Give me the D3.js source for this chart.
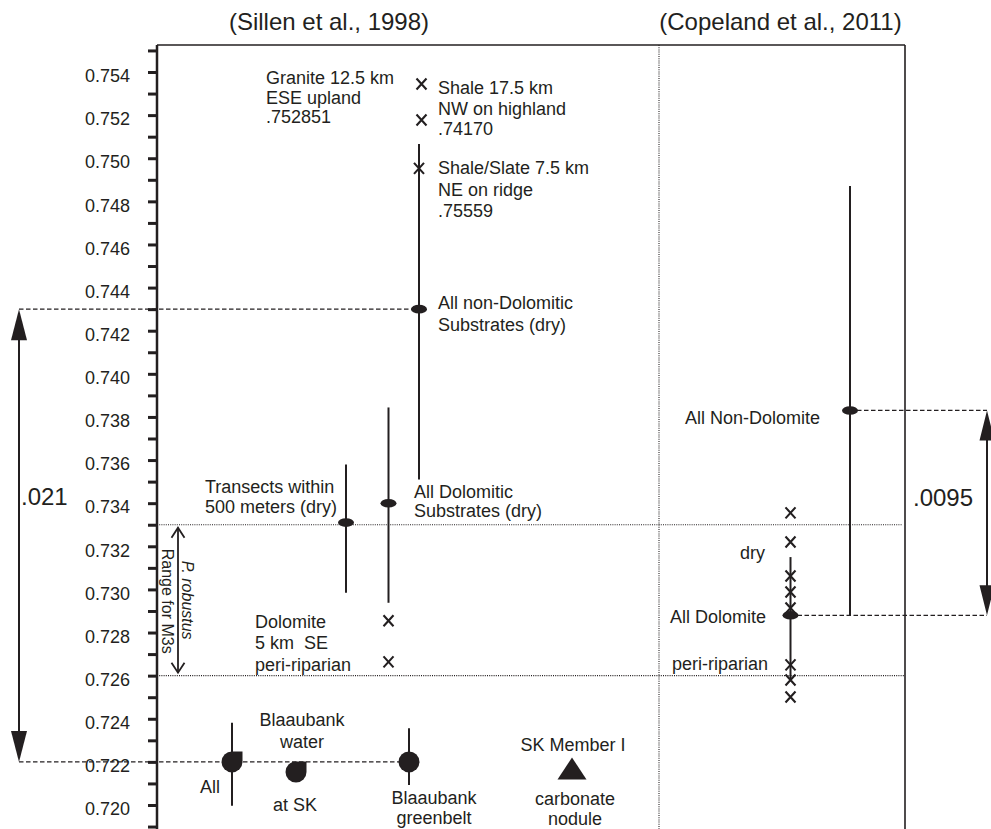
<!DOCTYPE html>
<html>
<head>
<meta charset="utf-8">
<script src="https://cdn.jsdelivr.net/npm/d3@7"></script>
<style>
  html, body { margin: 0; padding: 0; background: #fff; }
  svg { display: block; }
</style>
</head>
<body>
<svg id="chart" width="991" height="829"></svg>
<script>
// ---- 87Sr/86Sr axis ----
const majorTickLabels = ["0.720", "0.722", "0.724", "0.726", "0.728", "0.730", "0.732", "0.734",
  "0.736", "0.738", "0.740", "0.742", "0.744", "0.746", "0.748", "0.750", "0.752", "0.754"];
const minorTickValues = d3.range(719, 756).map(d => d / 1000);

// ---- Sillen et al., 1998: sample groups shown as range bars with a mean marker ----
const sillenGroups = ["Transects", "AllDolomitic", "AllNonDolomitic", "WaterAll", "Greenbelt"];
const sillenLow    = [0.72985, 0.72938, 0.73510, 0.71996, 0.72093];
const sillenHigh   = [0.73579, 0.73844, 0.75066, 0.72381, 0.72356];
const sillenMean   = [0.7331, 0.7340, 0.7430, 0.7220, 0.7220];
const sillenMarker = ["ellipse", "ellipse", "ellipse", "drop", "circle"];

// single values without a range
const singleGroups  = ["WaterSK", "SKMemberI"];
const singleValues  = [0.72153, 0.72160];
const singleMarkers = ["drop", "triangle"];

// ---- Copeland et al., 2011 ----
const copelandGroups = ["CopelandDolomite", "CopelandNonDolomite"];
const copelandLow    = [0.7258, 0.7288];
const copelandHigh   = [0.7315, 0.74871];
const copelandMean   = [0.7288, 0.7383];

// ---- individual samples (x) ----
const sampleGroups = ["ShaleTop", "ShaleTop", "AllNonDolomitic", "AllDolomitic", "AllDolomitic",
  "CopelandDolomite", "CopelandDolomite", "CopelandDolomite", "CopelandDolomite",
  "CopelandDolomite", "CopelandDolomite", "CopelandDolomite", "CopelandDolomite"];
const sampleValues = [0.75344, 0.75177, 0.74953, 0.72855, 0.72664,
  0.73355, 0.73220, 0.73062, 0.72988, 0.72914, 0.72650, 0.72580, 0.72501];

// ---- mean differences ----
const differenceLabels = [".021", ".0095"];
const differenceFrom   = [0.7430, 0.7383];
const differenceTo     = [0.7220, 0.7288];

// P. robustus M3 range
const m3Range = [0.726, 0.733];

// ================= drawing =================
const ink = "#231f20";
const font = "'Liberation Sans', Arial, Helvetica, sans-serif";
const svg = d3.select("#chart").attr("font-family", font);

const frame = { left: 157, right: 905, top: 45, bottom: 829, split: 659 };
const y = d3.scaleLinear().domain([0.720, 0.754]).range([805, 72]);

// horizontal placement of each group
const columnKeys = ["WaterAll", "WaterSK", "Transects", "AllDolomitic", "Greenbelt",
  "AllNonDolomitic", "ShaleTop", "SKMemberI", "CopelandDolomite", "CopelandNonDolomite",
  "LeftDiff", "RightDiff", "M3"];
const x = d3.scaleOrdinal().domain(columnKeys)
  .range([232, 296, 346, 388.5, 409, 419, 421.5, 572, 790.5, 850, 19, 987, 178]);

// frame
svg.append("line").attr("x1", frame.left).attr("x2", frame.right)
  .attr("y1", frame.top).attr("y2", frame.top)
  .attr("stroke", ink).attr("stroke-width", 1.6);
svg.append("line").attr("x1", frame.right).attr("x2", frame.right)
  .attr("y1", frame.top).attr("y2", frame.bottom)
  .attr("stroke", ink).attr("stroke-width", 1.6);
svg.append("line").attr("x1", frame.split).attr("x2", frame.split)
  .attr("y1", frame.top).attr("y2", frame.bottom)
  .attr("stroke", ink).attr("stroke-width", 1.1).attr("stroke-dasharray", "1,1.2");

// axis
const axis = d3.axisLeft(y)
  .tickValues(minorTickValues)
  .tickSize(9)
  .tickPadding(18)
  .tickFormat(d => {
    const s = d3.format(".3f")(d);
    return majorTickLabels.includes(s) ? s : "";
  });
const gAxis = svg.append("g")
  .attr("transform", `translate(${frame.left},0)`)
  .call(axis)
  .attr("font-family", font);
gAxis.select(".domain").remove();
gAxis.selectAll(".tick line").attr("stroke", ink).attr("stroke-width", 3);
gAxis.selectAll(".tick text").attr("font-size", 18).attr("fill", ink).attr("dy", "0.54em");
svg.append("line").attr("x1", frame.left).attr("x2", frame.left)
  .attr("y1", frame.top).attr("y2", frame.bottom)
  .attr("stroke", ink).attr("stroke-width", 2.5);

// dotted reference lines bounding the M3 range
svg.append("line").attr("x1", frame.left).attr("x2", frame.right - 3)
  .attr("y1", y(m3Range[1])).attr("y2", y(m3Range[1]))
  .attr("stroke", ink).attr("stroke-width", 1.1).attr("stroke-dasharray", "1,1.2");
svg.append("line").attr("x1", frame.left).attr("x2", frame.right)
  .attr("y1", y(m3Range[0])).attr("y2", y(m3Range[0]))
  .attr("stroke", ink).attr("stroke-width", 1.1).attr("stroke-dasharray", "1,1.2");

// dashed connectors from the means to the difference arrows
const dashed = (x1, x2, v) => svg.append("line")
  .attr("x1", x1).attr("x2", x2).attr("y1", y(v)).attr("y2", y(v))
  .attr("stroke", ink).attr("stroke-width", 1.3).attr("stroke-dasharray", "4.5,2.5");
dashed(x("LeftDiff"), x("AllNonDolomitic"), differenceFrom[0]);
dashed(x("LeftDiff"), x("Greenbelt"), differenceTo[0]);
dashed(x("CopelandNonDolomite"), x("RightDiff"), differenceFrom[1]);
dashed(x("CopelandDolomite"), x("RightDiff"), differenceTo[1]);

// range bars
const bars = svg.append("g").attr("stroke", ink).attr("stroke-width", 2);
sillenGroups.forEach((g, i) => {
  bars.append("line").attr("x1", x(g)).attr("x2", x(g))
    .attr("y1", y(sillenHigh[i])).attr("y2", y(sillenLow[i]));
});
copelandGroups.forEach((g, i) => {
  bars.append("line").attr("x1", x(g)).attr("x2", x(g))
    .attr("y1", y(copelandHigh[i])).attr("y2", y(copelandLow[i]));
});

// marker shapes
const dropPath = r => `M0,${-r}L${r},${-r}L${r},0A${r},${r} 0 1 1 0,${-r}Z`;
function drawMarker(kind, cx, cy) {
  const g = svg.append("g").attr("transform", `translate(${cx},${cy})`).attr("fill", ink);
  if (kind === "ellipse") g.append("ellipse").attr("rx", 8).attr("ry", 4.3);
  else if (kind === "circle") g.append("circle").attr("r", 10.5);
  else if (kind === "drop") g.append("path").attr("d", dropPath(10.5));
  else if (kind === "triangle") g.append("path").attr("d", "M0,-13L14.5,9L-14.5,9Z");
}

// individual samples
const xMark = svg.append("g").attr("stroke", ink).attr("stroke-width", 2.1).attr("fill", "none");
sampleGroups.forEach((g, i) => {
  xMark.append("path")
    .attr("transform", `translate(${x(g)},${y(sampleValues[i])})`)
    .attr("d", "M-5,-5.5L5,5.5M-5,5.5L5,-5.5");
});

sillenGroups.forEach((g, i) => drawMarker(sillenMarker[i], x(g), y(sillenMean[i])));
singleGroups.forEach((g, i) => drawMarker(singleMarkers[i], x(g), y(singleValues[i])));
copelandGroups.forEach((g, i) => drawMarker("ellipse", x(g), y(copelandMean[i])));

// difference arrows with filled heads
function doubleArrow(cx, v1, v2, len, hw) {
  const y1 = y(v1), y2 = y(v2);
  svg.append("line").attr("x1", cx).attr("x2", cx).attr("y1", y1 + 4).attr("y2", y2 - 4)
    .attr("stroke", ink).attr("stroke-width", 2);
  svg.append("path").attr("fill", ink)
    .attr("d", `M${cx},${y1}L${cx + hw},${y1 + len}L${cx - hw},${y1 + len}Z`);
  svg.append("path").attr("fill", ink)
    .attr("d", `M${cx},${y2}L${cx + hw},${y2 - len}L${cx - hw},${y2 - len}Z`);
}
doubleArrow(x("LeftDiff"), differenceFrom[0], differenceTo[0], 31, 8);
doubleArrow(x("RightDiff"), differenceFrom[1], differenceTo[1], 30, 7.5);

// P. robustus range arrow with open heads
{
  const cx = x("M3"), y1 = y(m3Range[1]) + 3, y2 = y(m3Range[0]) - 3;
  const g = svg.append("g").attr("stroke", ink).attr("stroke-width", 1.8).attr("fill", "none");
  g.append("line").attr("x1", cx).attr("x2", cx).attr("y1", y1).attr("y2", y2);
  g.append("path").attr("d", `M${cx - 6.5},${y1 + 10}L${cx},${y1}L${cx + 6.5},${y1 + 10}`);
  g.append("path").attr("d", `M${cx - 6.5},${y2 - 10}L${cx},${y2}L${cx + 6.5},${y2 - 10}`);
}

// ---- text ----
function label(lines, tx, centers, anchor, size) {
  const t = svg.append("g").attr("font-size", size || 18).attr("fill", ink)
    .attr("text-anchor", anchor || "start");
  lines.forEach((s, i) => {
    t.append("text").attr("x", tx).attr("y", centers[i]).attr("dy", "0.35em")
      .style("white-space", "pre").text(s);
  });
}

// titles
svg.append("text").attr("x", 329).attr("y", 30).attr("text-anchor", "middle")
  .attr("font-size", 24).attr("fill", ink).text("(Sillen et al., 1998)");
svg.append("text").attr("x", 780.5).attr("y", 30).attr("text-anchor", "middle")
  .attr("font-size", 24).attr("fill", ink).text("(Copeland et al., 2011)");

label(["Granite 12.5 km", "ESE upland", ".752851"], 266, [78, 98, 117]);
label(["Shale 17.5 km", "NW on highland", ".74170"], 438, [88, 109, 129]);
label(["Shale/Slate 7.5 km", "NE on ridge", ".75559"], 438, [168, 190, 211]);
label(["All non-Dolomitic", "Substrates (dry)"], 438, [303, 325]);
label(["Transects within", "500 meters (dry)"], 205, [487, 507]);
label(["All Dolomitic", "Substrates (dry)"], 414, [492, 511]);
label(["Dolomite", "5 km  SE", "peri-riparian"], 255, [622, 643, 665]);
label(["Blaaubank", "water"], 302, [720, 742], "middle");
label(["All"], 220, [787], "end");
label(["at SK"], 295, [805], "middle");
label(["Blaaubank", "greenbelt"], 434, [798, 818], "middle");
label(["SK Member I"], 573, [745], "middle");
label(["carbonate", "nodule"], 575, [799, 819], "middle");

label(["All Non-Dolomite"], 685, [418]);
label(["dry"], 765, [553], "end");
label(["All Dolomite"], 766, [617], "end");
label(["peri-riparian"], 768, [664], "end");

label([differenceLabels[0]], 21, [497], "start", 24);
label([differenceLabels[1]], 913, [498], "start", 24);

// rotated range caption
{
  const cyMid = (y(m3Range[0]) + y(m3Range[1])) / 2;
  svg.append("text").attr("transform", `translate(188,${cyMid}) rotate(90)`)
    .attr("text-anchor", "middle").attr("dy", "0.35em")
    .attr("font-size", 16).attr("font-style", "italic").attr("fill", ink).text("P. robustus");
  svg.append("text").attr("transform", `translate(168,${cyMid + 1}) rotate(90)`)
    .attr("text-anchor", "middle").attr("dy", "0.35em")
    .attr("font-size", 16).attr("fill", ink).text("Range for M3s");
}
</script>
</body>
</html>
